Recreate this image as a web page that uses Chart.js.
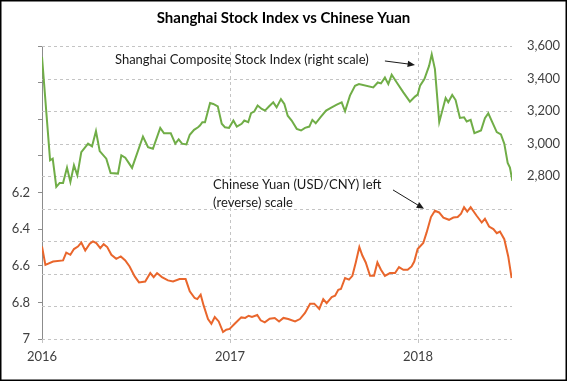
<!DOCTYPE html>
<html>
<head>
<meta charset="utf-8">
<script src="https://cdn.jsdelivr.net/npm/chart.js@4/dist/chart.umd.min.js"></script>
<style>
  body { margin: 0; background: #fff; }
  canvas { display: block; }
</style>
</head>
<body>
<canvas id="mainChart" width="567" height="381"></canvas>
<script>
// Shanghai Composite (right scale), decimal year -> index level
const stockYears = [
  2016.000, 2016.043, 2016.057, 2016.076, 2016.094, 2016.112, 2016.133, 2016.151, 2016.170, 2016.188,
  2016.209, 2016.245, 2016.266, 2016.287, 2016.307, 2016.342, 2016.365, 2016.404, 2016.422, 2016.443,
  2016.479, 2016.537, 2016.564, 2016.590, 2016.629, 2016.649, 2016.685, 2016.709, 2016.727, 2016.745,
  2016.768, 2016.786, 2016.809, 2016.830, 2016.840, 2016.853, 2016.867, 2016.894, 2016.911, 2016.935,
  2016.956, 2016.973, 2016.995, 2017.018, 2017.036, 2017.062, 2017.076, 2017.097, 2017.112, 2017.129,
  2017.147, 2017.169, 2017.186, 2017.207, 2017.230, 2017.248, 2017.271, 2017.289, 2017.307, 2017.328,
  2017.355, 2017.378, 2017.399, 2017.422, 2017.438, 2017.456, 2017.484, 2017.511, 2017.541, 2017.568,
  2017.594, 2017.612, 2017.638, 2017.665, 2017.686, 2017.762, 2017.786, 2017.803, 2017.824, 2017.842,
  2017.860, 2017.887, 2017.922, 2017.957, 2017.984, 2017.998, 2018.011, 2018.034, 2018.059, 2018.073,
  2018.090, 2018.113, 2018.147, 2018.161, 2018.182, 2018.200, 2018.223, 2018.245, 2018.259, 2018.280,
  2018.300, 2018.335, 2018.356, 2018.374, 2018.395, 2018.419, 2018.441, 2018.459, 2018.477, 2018.489,
  2018.502
];
const stockIndex = [
  3533, 2898, 2908, 2735, 2759, 2759, 2853, 2765, 2867, 2806,
  2948, 3000, 2983, 3077, 2954, 2908, 2820, 2816, 2928, 2914,
  2851, 3044, 2979, 2969, 3097, 3064, 3064, 3000, 3026, 3000,
  2995, 3055, 3085, 3101, 3111, 3132, 3132, 3250, 3244, 3229,
  3122, 3101, 3097, 3142, 3105, 3122, 3142, 3132, 3187, 3197,
  3234, 3213, 3203, 3228, 3254, 3223, 3274, 3244, 3172, 3142,
  3091, 3081, 3097, 3105, 3146, 3125, 3166, 3203, 3223, 3240,
  3254, 3199, 3295, 3356, 3366, 3345, 3376, 3370, 3406, 3366,
  3423, 3376, 3315, 3258, 3289, 3301, 3356, 3397, 3478, 3549,
  3458, 3132, 3281, 3254, 3299, 3268, 3158, 3162, 3136, 3146,
  3064, 3081, 3156, 3187, 3132, 3071, 3057, 3000, 2881, 2853,
  2771
];

// Chinese Yuan USD/CNY (left, reversed scale)
const yuanYears = [
  2016.000, 2016.018, 2016.059, 2016.112, 2016.129, 2016.151, 2016.170, 2016.191, 2016.209, 2016.230,
  2016.254, 2016.271, 2016.289, 2016.310, 2016.328, 2016.347, 2016.369, 2016.395, 2016.419, 2016.443,
  2016.466, 2016.493, 2016.516, 2016.549, 2016.576, 2016.594, 2016.612, 2016.638, 2016.670, 2016.697,
  2016.732, 2016.764, 2016.786, 2016.812, 2016.826, 2016.844, 2016.860, 2016.883, 2016.901, 2016.919,
  2016.940, 2016.963, 2016.980, 2016.998, 2017.025, 2017.060, 2017.081, 2017.099, 2017.117, 2017.145,
  2017.163, 2017.185, 2017.211, 2017.238, 2017.261, 2017.284, 2017.310, 2017.346, 2017.372, 2017.399,
  2017.426, 2017.448, 2017.475, 2017.496, 2017.514, 2017.541, 2017.559, 2017.576, 2017.590, 2017.612,
  2017.633, 2017.651, 2017.669, 2017.688, 2017.704, 2017.722, 2017.745, 2017.766, 2017.784, 2017.803,
  2017.824, 2017.851, 2017.878, 2017.899, 2017.922, 2017.945, 2017.966, 2017.980, 2017.998, 2018.028,
  2018.046, 2018.069, 2018.090, 2018.112, 2018.135, 2018.165, 2018.188, 2018.211, 2018.229, 2018.245,
  2018.262, 2018.280, 2018.312, 2018.339, 2018.356, 2018.378, 2018.401, 2018.419, 2018.436, 2018.459,
  2018.480, 2018.498
];
const yuanRate = [
  6.495, 6.595, 6.577, 6.571, 6.528, 6.540, 6.509, 6.495, 6.473, 6.517,
  6.480, 6.467, 6.476, 6.504, 6.482, 6.498, 6.540, 6.562, 6.549, 6.571,
  6.604, 6.658, 6.691, 6.686, 6.640, 6.662, 6.640, 6.662, 6.680, 6.686,
  6.673, 6.673, 6.740, 6.776, 6.782, 6.758, 6.818, 6.891, 6.917, 6.880,
  6.904, 6.962, 6.949, 6.945, 6.917, 6.882, 6.885, 6.873, 6.880, 6.869,
  6.898, 6.909, 6.889, 6.885, 6.904, 6.885, 6.891, 6.904, 6.891, 6.858,
  6.807, 6.807, 6.836, 6.782, 6.804, 6.771, 6.764, 6.731, 6.727, 6.667,
  6.676, 6.655, 6.582, 6.498, 6.544, 6.582, 6.655, 6.655, 6.582, 6.622,
  6.655, 6.640, 6.640, 6.607, 6.622, 6.622, 6.604, 6.577, 6.509, 6.476,
  6.418, 6.334, 6.300, 6.309, 6.337, 6.349, 6.337, 6.334, 6.316, 6.280,
  6.304, 6.280, 6.327, 6.364, 6.344, 6.386, 6.400, 6.422, 6.413, 6.455,
  6.549, 6.667
];

const yearTicks = [2016, 2017, 2018];

const FONT = 'Lato, "Open Sans", sans-serif';
const GRID = '#c4c4c4';
const TEXT = '#404040';

function toPoints(xs, ys) {
  return xs.map((x, i) => ({ x: x, y: ys[i] }));
}

// white background + black outer frame
const framePlugin = {
  id: 'frame',
  beforeDraw(chart) {
    const ctx = chart.ctx;
    ctx.save();
    ctx.fillStyle = '#fff';
    ctx.fillRect(0, 0, chart.width, chart.height);
    ctx.restore();
  },
  afterDraw(chart) {
    const ctx = chart.ctx;
    ctx.save();
    ctx.strokeStyle = '#000';
    ctx.lineWidth = 1.5;
    ctx.strokeRect(0.75, 0.75, chart.width - 1.5, chart.height - 1.5);
    ctx.restore();
  }
};

// dashed grid, drawn by hand from the scales' own ticks
const gridPlugin = {
  id: 'dashGrid',
  beforeDatasetsDraw(chart) {
    const ctx = chart.ctx;
    const a = chart.chartArea;
    const xs = chart.scales.x, yr = chart.scales.yStock;
    ctx.save();
    ctx.strokeStyle = GRID;
    ctx.lineWidth = 1;
    ctx.setLineDash([3, 3]);
    yr.ticks.forEach(t => {
      const y = Math.round(yr.getPixelForValue(t.value)) + 0.5;
      ctx.beginPath();
      ctx.moveTo(a.left, y);
      ctx.lineTo(a.right, y);
      ctx.stroke();
    });
    xs.ticks.forEach(t => {
      if (t.value === xs.min) return;
      const x = Math.round(xs.getPixelForValue(t.value)) + 0.5;
      ctx.beginPath();
      ctx.moveTo(x, a.top);
      ctx.lineTo(x, a.bottom + 4);
      ctx.stroke();
    });
    ctx.restore();
  }
};

function arrow(ctx, x1, y1, x2, y2) {
  const a = Math.atan2(y2 - y1, x2 - x1);
  const len = 8;
  ctx.beginPath();
  ctx.moveTo(x1, y1);
  ctx.lineTo(x2 - Math.cos(a) * 4, y2 - Math.sin(a) * 4);
  ctx.stroke();
  ctx.beginPath();
  ctx.moveTo(x2, y2);
  ctx.lineTo(x2 - len * Math.cos(a - 0.4), y2 - len * Math.sin(a - 0.4));
  ctx.lineTo(x2 - len * Math.cos(a + 0.4), y2 - len * Math.sin(a + 0.4));
  ctx.closePath();
  ctx.fill();
}

// the two text call-outs with arrows
const notesPlugin = {
  id: 'notes',
  afterDatasetsDraw(chart) {
    const ctx = chart.ctx;
    const xs = chart.scales.x, yl = chart.scales.yYuan, yr = chart.scales.yStock;
    ctx.save();
    ctx.fillStyle = '#1a1a1a';
    ctx.strokeStyle = '#1a1a1a';
    ctx.lineWidth = 1;
    ctx.font = '13px ' + FONT;
    ctx.textBaseline = 'middle';
    ctx.textAlign = 'left';
    ctx.fillText('Shanghai Composite Stock Index (right scale)', xs.getPixelForValue(2016.388), yr.getPixelForValue(3514));
    arrow(ctx, xs.getPixelForValue(2017.824), yr.getPixelForValue(3508), xs.getPixelForValue(2017.984), yr.getPixelForValue(3484));

    ctx.fillText('Chinese Yuan (USD/CNY) left', xs.getPixelForValue(2016.910), yl.getPixelForValue(6.157));
    ctx.fillText('(reverse) scale', xs.getPixelForValue(2016.910), yl.getPixelForValue(6.255));
    arrow(ctx, xs.getPixelForValue(2017.867), yl.getPixelForValue(6.186), xs.getPixelForValue(2018.032), yl.getPixelForValue(6.289));
    ctx.restore();
  }
};

const chart = new Chart(document.getElementById('mainChart').getContext('2d'), {
  type: 'line',
  data: {
    datasets: [
      {
        label: 'Shanghai Composite',
        data: toPoints(stockYears, stockIndex),
        yAxisID: 'yStock',
        borderColor: '#70ad47',
        borderWidth: 2,
        pointRadius: 0,
        tension: 0
      },
      {
        label: 'USD/CNY',
        data: toPoints(yuanYears, yuanRate),
        yAxisID: 'yYuan',
        borderColor: '#e9662c',
        borderWidth: 2,
        pointRadius: 0,
        tension: 0
      }
    ]
  },
  options: {
    responsive: false,
    animation: false,
    layout: { padding: { left: 0, right: 0, top: 0, bottom: 0 } },
    plugins: {
      legend: { display: false },
      tooltip: { enabled: false },
      title: {
        display: true,
        text: 'Shanghai Stock Index vs Chinese Yuan',
        color: '#000',
        font: { family: FONT, size: 15, weight: 'bold' },
        padding: { top: 9, bottom: 19 }
      }
    },
    scales: {
      x: {
        type: 'linear',
        min: 2016,
        max: 2018.5,
        afterFit(scale) { scale.height = 42; },
        afterBuildTicks(scale) { scale.ticks = yearTicks.map(v => ({ value: v })); },
        ticks: {
          color: TEXT,
          padding: 6,
          font: { family: FONT, size: 13 },
          maxRotation: 0,
          callback: v => String(v)
        },
        grid: { display: true, drawOnChartArea: false, drawTicks: true, tickLength: 4, color: GRID },
        border: { display: false }
      },
      yYuan: {
        position: 'left',
        reverse: true,
        min: 5.4,
        max: 7.0,
        afterFit(scale) { scale.width = 42; },
        ticks: {
          stepSize: 0.2,
          color: TEXT,
          padding: 8,
          font: { family: FONT, size: 13 },
          callback: v => (v >= 6.19 ? String(Number(v.toFixed(1))) : '')
        },
        grid: { drawOnChartArea: false, drawTicks: true, tickLength: 4, color: '#8c8c8c' },
        border: { display: true, color: '#8c8c8c', width: 1 }
      },
      yStock: {
        position: 'right',
        min: 1800,
        max: 3600,
        afterFit(scale) { scale.width = 55; },
        ticks: {
          stepSize: 200,
          color: TEXT,
          padding: 15,
          font: { family: FONT, size: 13 },
          callback: v => (v >= 2800 ? v.toLocaleString('en-US') : '')
        },
        grid: { display: false, drawTicks: false },
        border: { display: false }
      }
    }
  },
  plugins: [framePlugin, gridPlugin, notesPlugin]
});
</script>
</body>
</html>
